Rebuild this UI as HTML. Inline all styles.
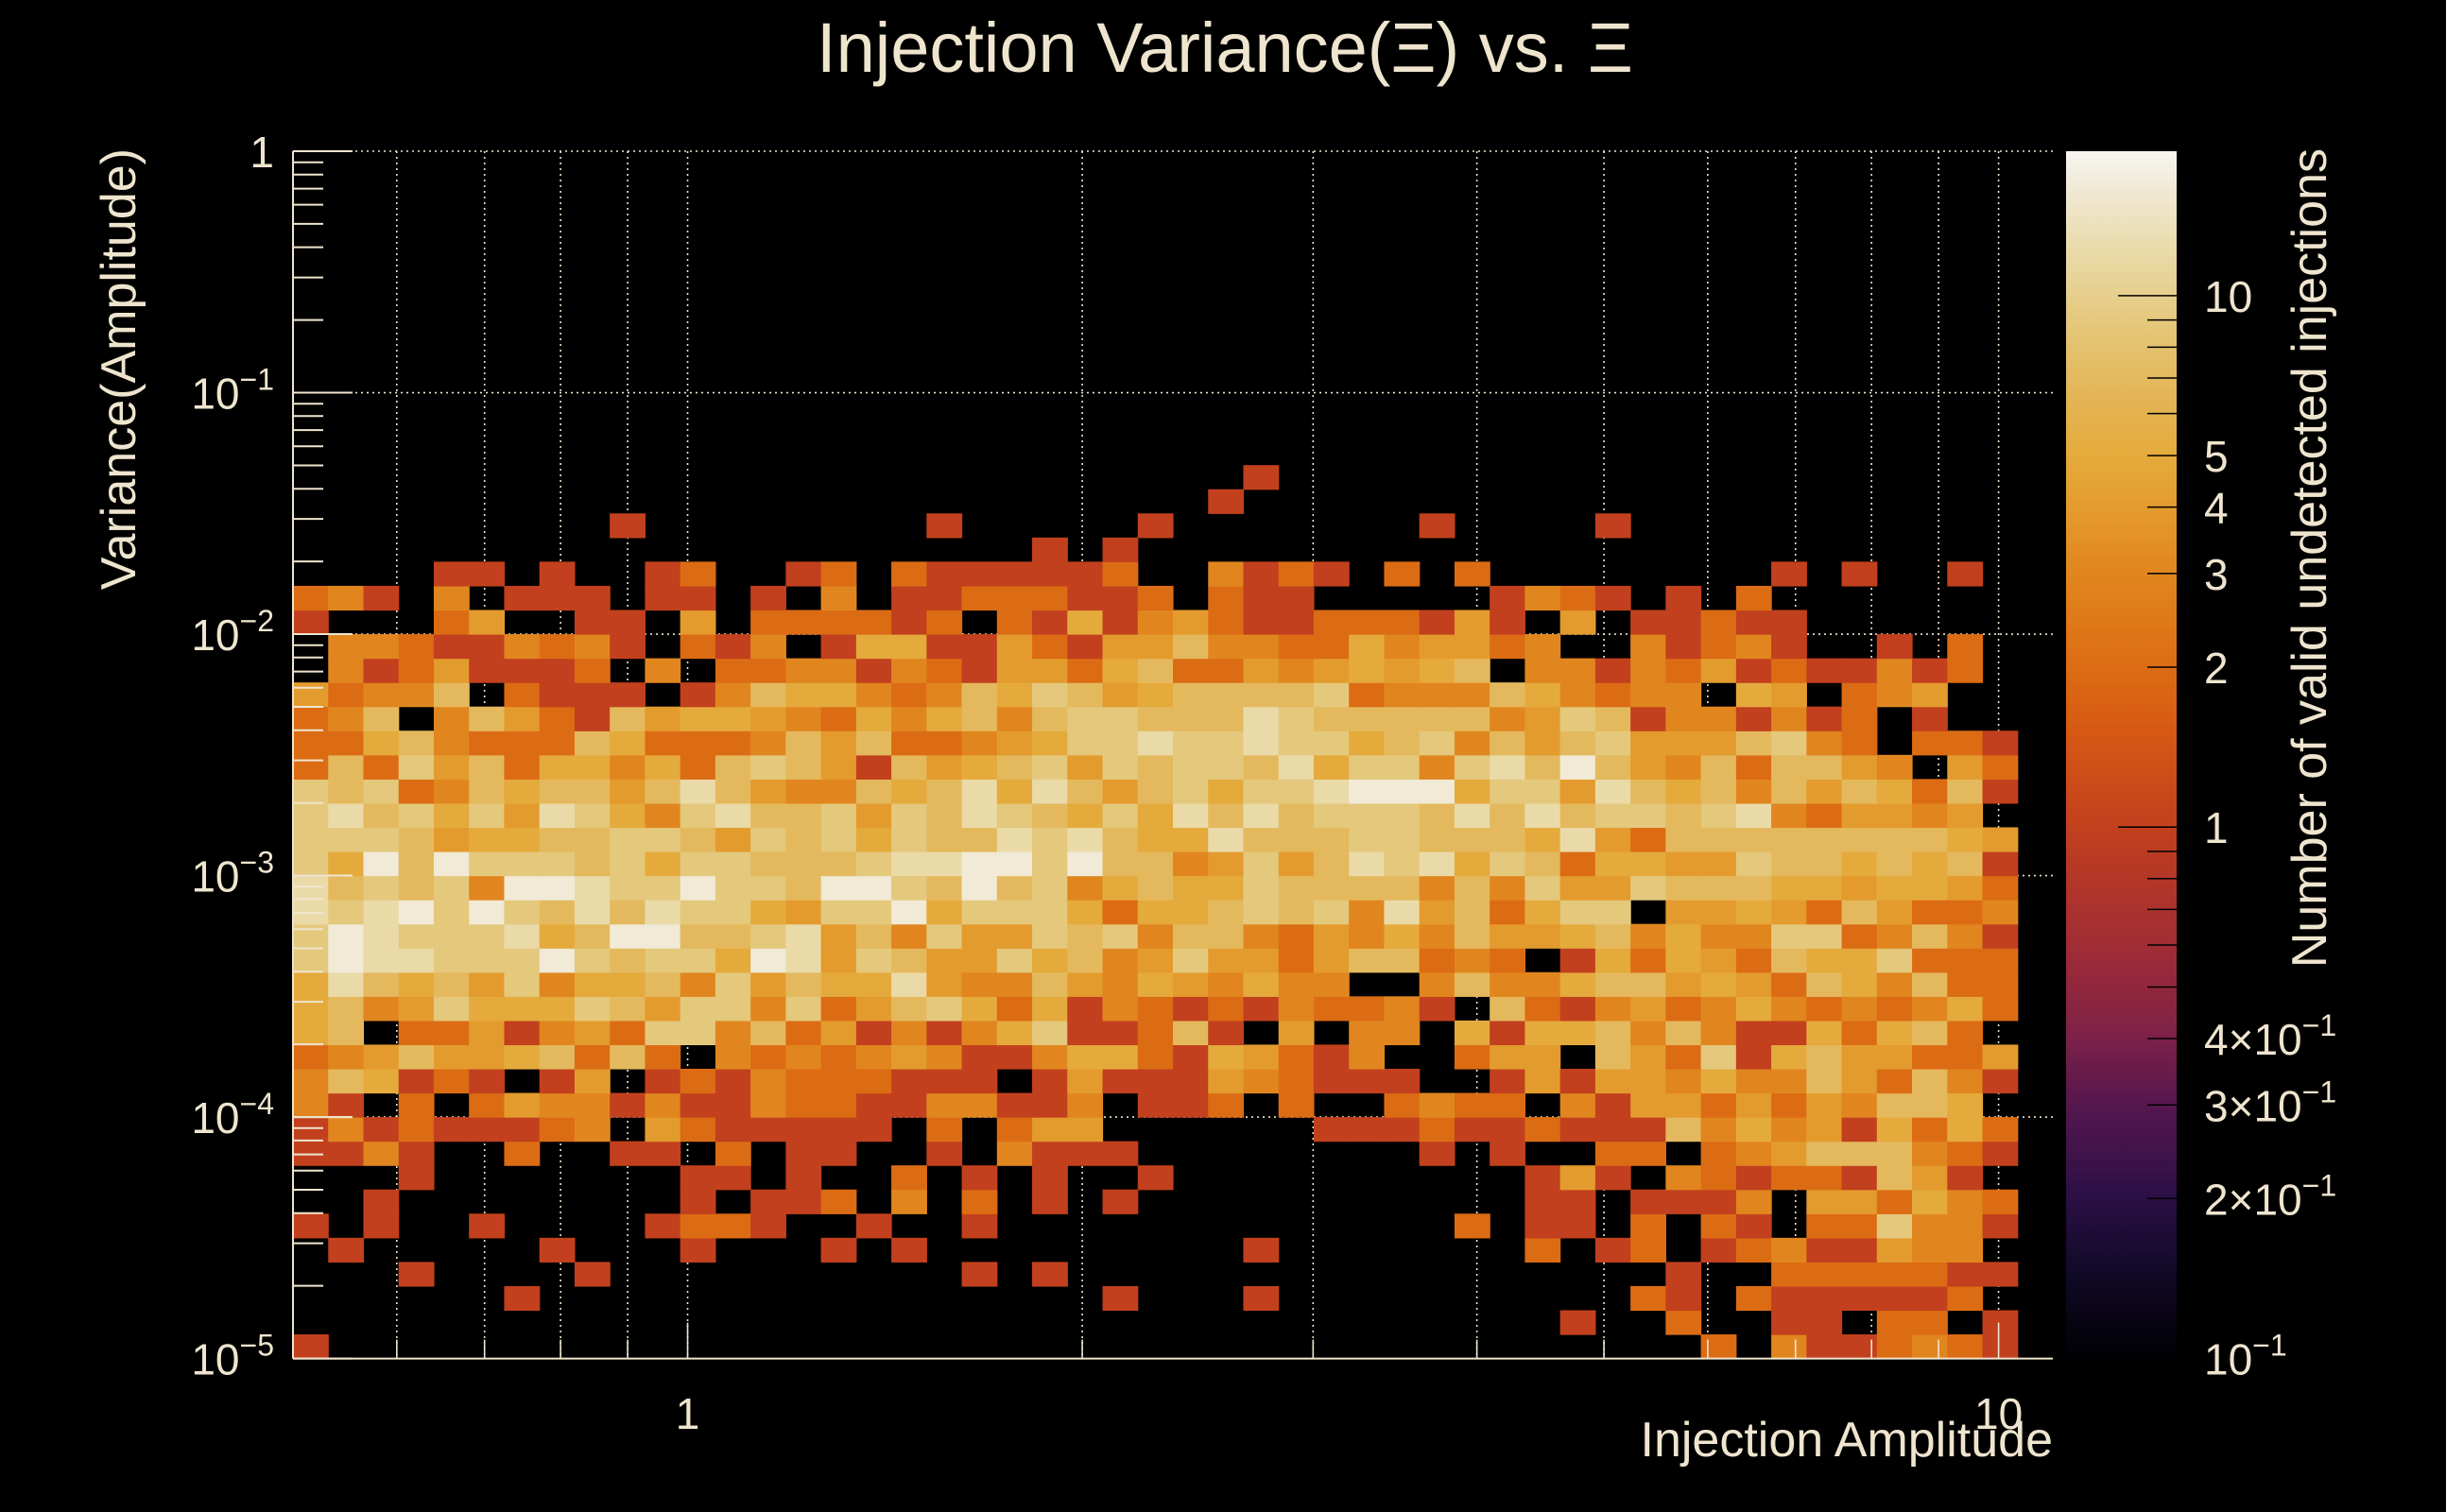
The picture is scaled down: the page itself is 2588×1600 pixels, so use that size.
<!DOCTYPE html>
<html><head><meta charset="utf-8"><title>Injection Variance vs Xi</title>
<style>html,body{margin:0;padding:0;background:#000;}svg{display:block;font-family:"Liberation Sans",Arial,sans-serif;}</style>
</head><body>
<svg id="chart" width="2588" height="1600" viewBox="0 0 2588 1600" xmlns="http://www.w3.org/2000/svg">
<rect x="0" y="0" width="2588" height="1600" fill="#000"/>
<defs><linearGradient id="pal" x1="0" y1="1" x2="0" y2="0"></linearGradient></defs>
<g id="grid"></g>
<g id="cells"></g>
<g id="axes"></g>
<g id="cbar"></g>
<text x="1296" y="76" font-size="74" fill="#efe5cf" text-anchor="middle">Injection Variance(Ξ) vs. Ξ</text>
<text transform="translate(143,157) rotate(-90)" font-size="52" fill="#efe5cf" text-anchor="end">Variance(Amplitude)</text>
<text x="2172" y="1541" font-size="52" fill="#efe5cf" text-anchor="end">Injection Amplitude</text>
<text transform="translate(2461,157) rotate(-90)" font-size="52" fill="#efe5cf" text-anchor="end">Number of valid undetected injections</text>
</svg>
<script>
// ---- data ----
const xMin = 0.5, xMax = 11.0, nX = 50;
const yMinExp = -5, yMaxExp = 0, nY = 50;
const zMin = 0.1, zMax = 18.7;
const codeToCount = [0, 1, 2, 3, 4, 5, 7, 9, 12, 16];
// rows from bottom (row 0 = lowest variance bin), 49 columns each (codes)
const countCodes = [
"1000000000 0000000000 0000000000 0000000000 203112321",
"0000000000 0000000000 0000000000 0000001002 001102201",
"0000001000 0000000000 0001000100 0000000021 021111120",
"0001000010 0000000001 0100000000 0000000001 002222211",
"0100000100 0100010100 0000000100 0000020120 123114330",
"1010010000 1221001001 0000000000 0002011020 210227331",
"0010000000 0101120302 0101000000 0000011011 130442532",
"0001000000 0110100201 0100100000 0000014103 212216410",
"1131002001 1020110010 3111000000 0010100220 234666321",
"1312111230 4211111020 2440000001 1121121116 353415252",
"3102024331 3113221133 1130112020 0232203144 242436650",
"3651210140 1213222111 0141114321 1100141443 533642631",
"2346445626 2032323431 1355215421 3002440642 715644224",
"5602241342 7736241313 5711261040 3305155636 311525620",
"5634755576 4773724675 2513212132 2310621342 353232352",
"5865647355 6374655843 3643543533 0036335664 542653622",
"7988777976 7759847644 7563474424 6623201525 426557222",
"7987778569 9667846374 4767366324 3536445635 337723631",
"8789797686 8775477957 7752556767 3846257704 454264223",
"8676739987 7977699769 6735655766 6636374476 665545542",
"7596977767 5776667889 9796634746 8785762554 476656561",
"7776455667 7647675766 8786558666 7766658426 666666654",
"7867574875 3786674768 7657586867 7768686776 783244340",
"7672365664 6864336568 5864675778 9995774865 636465261",
"2627462553 5267641645 6747677685 7737869643 626643042",
"2256322265 2223646223 4577877877 5673646744 467320221",
"2360364216 4554325356 3677666876 6666347613 313120100",
"4233602111 0136553236 5764566667 2333653233 054023400",
"0312411120 3022331321 4425622434 5456033132 412113120",
"0332113231 0213015511 4214463322 5344230031 231001020",
"1000240011 0402222120 2151342112 2214104011 211000000",
"2310301110 1101030112 2211202110 0000132101 020000000",
"0000110100 1200120211 1112003121 0202000000 001010010",
"0000000000 0000000000 0101000000 0000000000 000000000",
"0000000001 0000000010 0000100000 0010000100 000000000",
"0000000000 0000000000 0000001000 0000000000 000000000",
"0000000000 0000000000 0000000100 0000000000 000000000"
];
const cbTickValues = [0.2, 0.3, 0.4, 0.5, 0.6, 0.7, 0.8, 0.9, 1, 2, 3, 4, 5, 6, 7, 8, 9, 10];
const cbLabels = [["10",10],["5",5],["4",4],["3",3],["2",2],["1",1],["4×10","0.4"],["3×10","0.3"],["2×10","0.2"],["10","0.1"]];
const yLabels = [["1",0],["10",-1],["10",-2],["10",-3],["10",-4],["10",-5]];
const xLabels = [["1",1],["10",10]];
// palette stops: value -> colour
const palVals = [0.1, 0.15, 0.2, 0.3, 0.4, 0.6, 1, 1.5, 2, 3, 4, 5, 7, 9, 12, 16, 18.7];
const palCols = ["#000004","#120a2a","#2b0f45","#55174f","#7c2148","#a12c35","#c2401d","#d65814","#dc6c14","#e1861f","#e49b2e","#e5aa3c","#e4b95e","#e4c87c","#eadaa8","#f0ead6","#f7f5f2"];

// ---- geometry ----
const L = 310, R = 2172, T = 160, B = 1437.6;
const CBL = 2186, CBR = 2303;
const NS = "http://www.w3.org/2000/svg";
const lx0 = Math.log10(xMin), lx1 = Math.log10(xMax);
function xs(v){ return L + (Math.log10(v) - lx0) / (lx1 - lx0) * (R - L); }
function ys(v){ return B - (Math.log10(v) - yMinExp) / (yMaxExp - yMinExp) * (B - T); }
function zs(v){ return B - (Math.log10(v) - Math.log10(zMin)) / (Math.log10(zMax) - Math.log10(zMin)) * (B - T); }
function hex(c){ return [parseInt(c.substr(1,2),16),parseInt(c.substr(3,2),16),parseInt(c.substr(5,2),16)]; }
function colorOf(v){
  const lv = Math.log10(Math.max(palVals[0], Math.min(v, palVals[palVals.length-1])));
  for (let i = 0; i < palVals.length - 1; i++) {
    const a = Math.log10(palVals[i]), b = Math.log10(palVals[i+1]);
    if (lv <= b) {
      const t = (lv - a) / (b - a), c0 = hex(palCols[i]), c1 = hex(palCols[i+1]);
      return "rgb(" + c0.map((c, k) => Math.round(c + (c1[k] - c) * t)).join(",") + ")";
    }
  }
  return palCols[palCols.length-1];
}
function mk(tag, attrs, parent){
  const e = document.createElementNS(NS, tag);
  for (const k in attrs) e.setAttribute(k, attrs[k]);
  parent.appendChild(e);
  return e;
}
const gGrid = document.getElementById("grid");
const gCells = document.getElementById("cells");
const gAxes = document.getElementById("axes");
const gCb = document.getElementById("cbar");
const cream = "#efe5cf";

// cells
const binW = (lx1 - lx0) / nX, binH = (yMaxExp - yMinExp) / nY;
countCodes.forEach((row, r) => {
  const codes = row.replace(/ /g, "");
  for (let c = 0; c < codes.length; c++) {
    const v = codeToCount[+codes[c]];
    if (!v) continue;
    const xa = xs(Math.pow(10, lx0 + c * binW)), xb = xs(Math.pow(10, lx0 + (c + 1) * binW));
    const ya = ys(Math.pow(10, yMinExp + (r + 1) * binH)), yb = ys(Math.pow(10, yMinExp + r * binH));
    const el = mk("rect", {x: xa, y: ya, width: xb - xa + 0.6, height: yb - ya + 0.6, fill: colorOf(v)}, gCells);
    
    
  }
});

// grid lines
const xGridVals = [0.6,0.7,0.8,0.9,1,2,3,4,5,6,7,8,9,10];
xGridVals.forEach(v => {
  const el = mk("line", {x1: xs(v), x2: xs(v), y1: T, y2: B, stroke: cream, "stroke-width": 1.6, "stroke-dasharray": "2,4"}, gGrid);
  
  
});
for (let e = yMinExp + 1; e <= yMaxExp; e++) {
  const el = mk("line", {x1: L, x2: R, y1: ys(Math.pow(10, e)), y2: ys(Math.pow(10, e)), stroke: cream, "stroke-width": 1.6, "stroke-dasharray": "2,4"}, gGrid);
  
  
}

// axes lines
let ax = mk("line", {x1: L, x2: L, y1: T, y2: B, stroke: cream, "stroke-width": 2}, gAxes);


ax = mk("line", {x1: L, x2: R, y1: B, y2: B, stroke: cream, "stroke-width": 2}, gAxes);


// y ticks
for (let e = yMinExp; e < yMaxExp; e++) {
  for (let m = 1; m <= 10; m++) {
    const y = ys(m * Math.pow(10, e));
    const len = (m === 1 || m === 10) ? 63 : 32;
    const tk = mk("line", {x1: L, x2: L + len, y1: y, y2: y, stroke: cream, "stroke-width": 2}, gAxes);
    
    
  }
}
// x ticks
for (let e = -1; e <= 1; e++) {
  for (let m = 1; m <= 9; m++) {
    const v = m * Math.pow(10, e);
    if (v < xMin || v > xMax) continue;
    const len = (m === 1) ? 38 : 20;
    const tk = mk("line", {x1: xs(v), x2: xs(v), y1: B, y2: B - len, stroke: cream, "stroke-width": 1.6}, gAxes);
    
    
  }
}
// y labels
yLabels.forEach(([base, e]) => {
  const t = mk("text", {x: 290, y: ys(Math.pow(10, e)) + 17, "font-size": 46, fill: cream, "text-anchor": "end"}, gAxes);
  
  
  t.textContent = base;
  if (e !== 0) {
    const s = mk("tspan", {dy: -20, "font-size": 32}, t);
    s.textContent = "−" + (-e);
  }
});
// x labels
xLabels.forEach(([lab, v]) => {
  const t = mk("text", {x: xs(v), y: 1512, "font-size": 46, fill: cream, "text-anchor": "middle"}, gAxes);
  
  
  t.textContent = lab;
});

// colour bar gradient
const grad = document.getElementById("pal");
for (let i = 0; i <= 60; i++) {
  const lv = Math.log10(zMin) + (Math.log10(zMax) - Math.log10(zMin)) * i / 60;
  mk("stop", {offset: (i / 60), "stop-color": colorOf(Math.pow(10, lv))}, grad);
}
const cb = mk("rect", {x: CBL, y: T, width: CBR - CBL, height: B - T, fill: "url(#pal)"}, gCb);


cbTickValues.forEach(v => {
  const y = zs(v);
  const len = (v === 1 || v === 10) ? 62 : 31;
  const tk = mk("line", {x1: CBR - len, x2: CBR, y1: y, y2: y, stroke: "#000", "stroke-width": 1.5}, gCb);
  
  
});
cbLabels.forEach(([lab, v]) => {
  const val = +v;
  const t = mk("text", {x: 2332, y: zs(val) + 17, "font-size": 46, fill: cream}, gCb);
  
  
  t.textContent = lab;
  if (val < 1) {
    const s = mk("tspan", {dy: -20, "font-size": 32}, t);
    s.textContent = "−1";
  }
});
</script>
</body></html>
